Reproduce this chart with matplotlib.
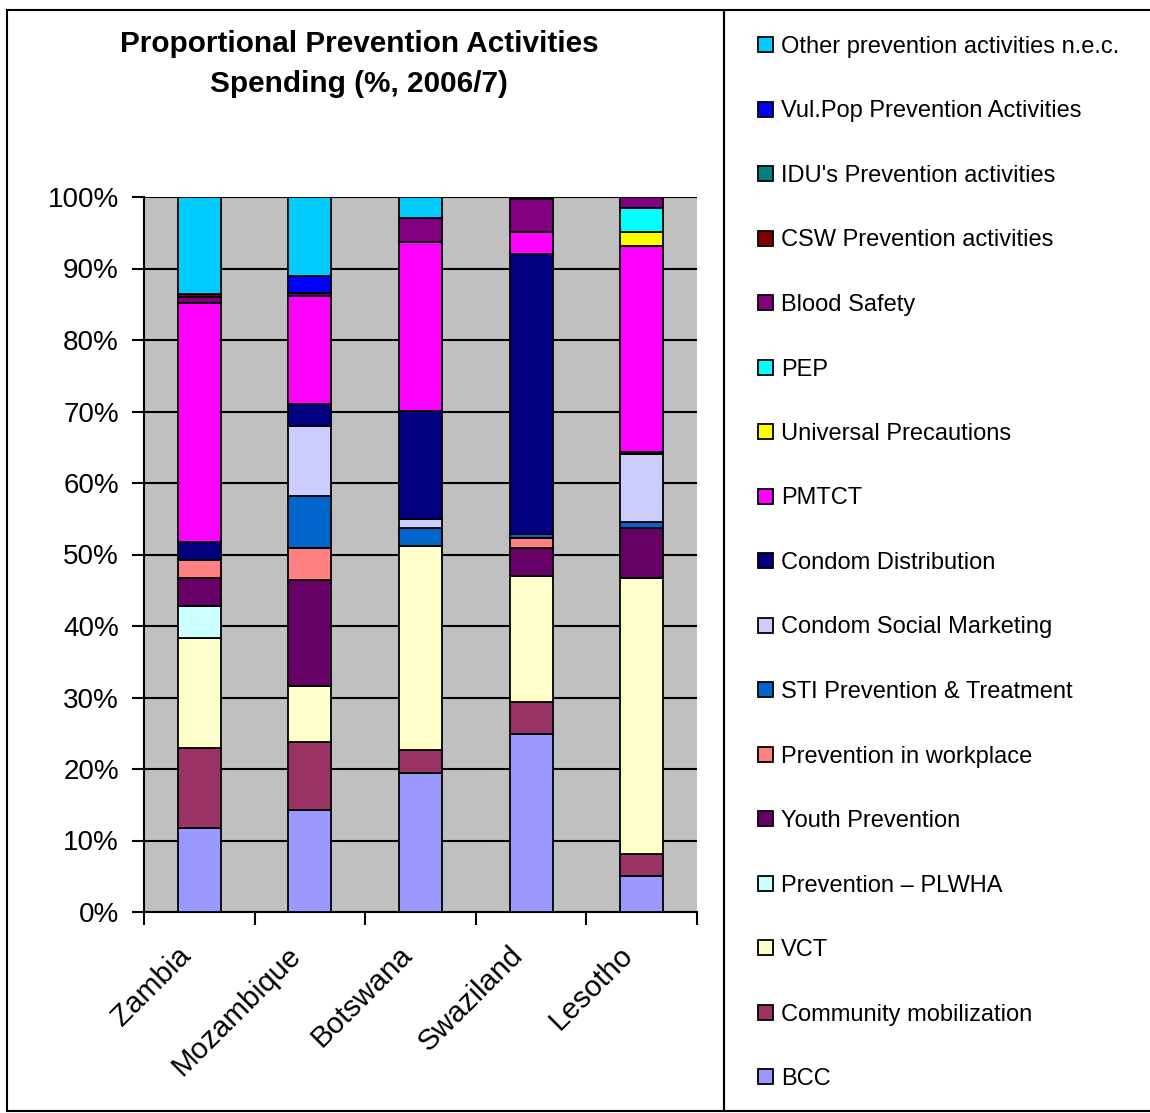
import matplotlib.pyplot as plt
import matplotlib.transforms as mtransforms
import numpy as np
from matplotlib.patches import Rectangle

plt.rcParams['font.family'] = ['Liberation Sans', 'DejaVu Sans']

# countries on the x axis
countries = ["Zambia", "Mozambique", "Botswana", "Swaziland", "Lesotho"]

# spending shares (%) per activity, bottom of the stack first
bcc = [11.8, 14.3, 19.5, 24.9, 5.0]
community = [11.2, 9.5, 3.2, 4.5, 3.1]
vct = [15.3, 7.8, 28.5, 17.6, 38.6]
plwha = [4.5, 0, 0, 0, 0]
youth = [3.9, 14.8, 0, 3.9, 7.0]
workplace = [2.5, 4.5, 0, 1.4, 0]
sti = [0, 7.3, 2.5, 0.5, 0.8]
condom_sm = [0, 9.8, 1.3, 0, 9.6]
condom_dist = [2.6, 3.0, 15.1, 39.2, 0.2]
pmtct = [33.4, 15.2, 23.6, 3.1, 28.8]
univ_prec = [0, 0, 0, 0, 2.0]
pep = [0, 0, 0, 0, 3.3]
blood = [0.8, 0.4, 3.3, 4.6, 1.6]
csw = [0.4, 0, 0, 0.3, 0]
idu = [0, 0, 0, 0, 0]
vulpop = [0, 2.3, 0, 0, 0]
other = [13.6, 11.1, 3.0, 0, 0]

series = [bcc, community, vct, plwha, youth, workplace, sti, condom_sm, condom_dist,
          pmtct, univ_prec, pep, blood, csw, idu, vulpop, other]
labels = ["BCC", "Community mobilization", "VCT", "Prevention \u2013 PLWHA", "Youth Prevention",
          "Prevention in workplace", "STI Prevention & Treatment", "Condom Social Marketing",
          "Condom Distribution", "PMTCT", "Universal Precautions", "PEP", "Blood Safety",
          "CSW Prevention activities", "IDU's Prevention activities", "Vul.Pop Prevention Activities",
          "Other prevention activities n.e.c."]
colors = ["#9999FF", "#993366", "#FFFFCC", "#CCFFFF", "#660066", "#FF8080", "#0066CC", "#CCCCFF",
          "#000080", "#FF00FF", "#FFFF00", "#00FFFF", "#800080", "#800000", "#008080", "#0000FF",
          "#00CCFF"]

W, H = 1150, 1113
fig = plt.figure(figsize=(W / 100, H / 100), dpi=100)
ax = fig.add_axes([144 / W, 1 - 912 / H, 553 / W, 715 / H])
ax.set_facecolor("#C0C0C0")

x = np.arange(len(countries))
bottom = np.zeros(len(countries))
handles = []
for vals, lab, col in zip(series, labels, colors):
    vals = np.array(vals)
    b = ax.bar(x, vals, 0.39, bottom=bottom, color=col, edgecolor="black", linewidth=1.3,
               label=lab, zorder=3)
    handles.append(b)
    bottom += vals

ax.set_xlim(-0.5, len(countries) - 0.5)
ax.set_ylim(0, 100)
ax.set_yticks(np.arange(0, 101, 10))
ax.set_yticklabels([f"{v}%" for v in range(0, 101, 10)], fontsize=20)
ax.yaxis.grid(True, color="black", linewidth=1.5, zorder=1)
ax.set_axisbelow(True)

# x ticks sit between the categories, labels at the bar centres
ax.set_xticks(np.arange(-0.5, len(countries)), minor=False)
ax.set_xticklabels([])
ax.set_xticks(x, minor=True)
ax.set_xticklabels(countries, minor=True, rotation=45, ha="right", va="center",
                   rotation_mode="anchor", fontsize=21.3)
ax.tick_params(axis="x", which="minor", length=0, pad=28)
ax.tick_params(axis="x", which="major", length=9, width=1.5, direction="out")
ax.tick_params(axis="y", length=9, width=1.5, direction="out", pad=9)
# nudge the rotated country names a little to the left
shift = mtransforms.ScaledTranslation(-13 / 100, 0, fig.dpi_scale_trans)
for lbl in ax.get_xticklabels(minor=True):
    lbl.set_transform(lbl.get_transform() + shift)
for s in ["left", "bottom"]:
    ax.spines[s].set_linewidth(1.5)
for s in ["top", "right"]:
    ax.spines[s].set_visible(False)

# title
fig.text(359 / W, 1 - 44 / H, "Proportional Prevention Activities", ha="center", va="center",
         fontsize=21.4, fontweight="bold")
fig.text(359 / W, 1 - 84 / H, "Spending (%, 2006/7)", ha="center", va="center",
         fontsize=21.4, fontweight="bold")

# outer frame and legend box
fig.patches.append(Rectangle((7 / W, 1 - 1111 / H), (724 - 7) / W, (1111 - 10) / H,
                             transform=fig.transFigure, fill=False, edgecolor="black", lw=1.5))
fig.patches.append(Rectangle((724 / W, 1 - 1111 / H), (W + 5 - 724) / W, (1111 - 10) / H,
                             transform=fig.transFigure, fill=False, edgecolor="black", lw=1.5))

leg = fig.legend(handles[::-1], labels[::-1], loc="upper left",
                 bbox_to_anchor=(758 / W, 1 - 36 / H), frameon=False, fontsize=17,
                 handlelength=0.62, handleheight=0.62, handletextpad=0.35,
                 labelspacing=1.80, borderpad=0, borderaxespad=0)

fig.savefig("out.png", dpi=100)
